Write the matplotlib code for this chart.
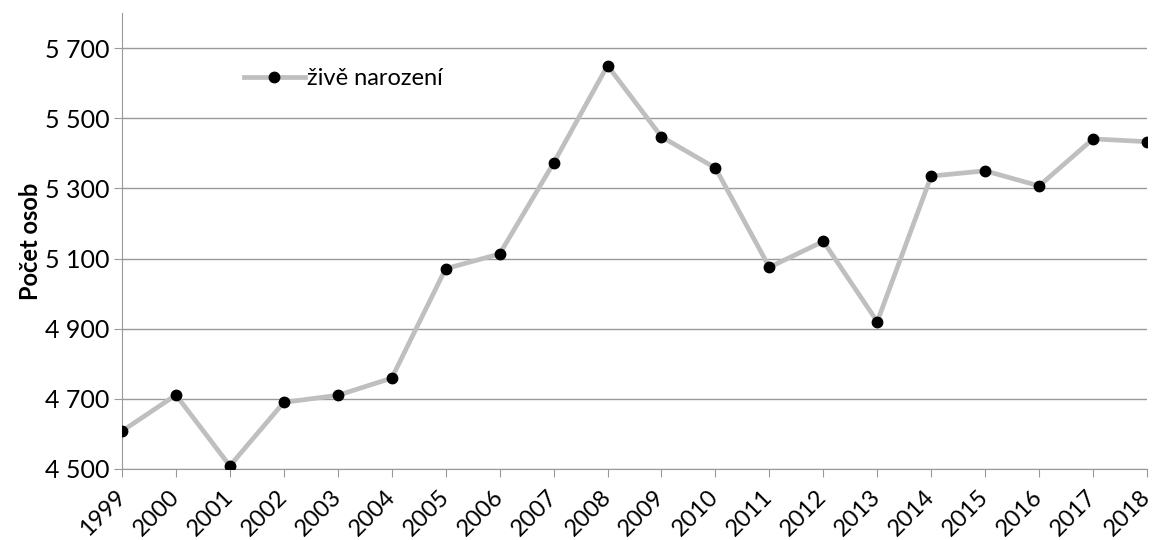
import matplotlib.pyplot as plt
import matplotlib.transforms as mtransforms

years = [1999, 2000, 2001, 2002, 2003, 2004, 2005, 2006, 2007, 2008,
         2009, 2010, 2011, 2012, 2013, 2014, 2015, 2016, 2017, 2018]
births = [4608, 4711, 4509, 4690, 4710, 4759, 5071, 5113, 5372, 5650,
          5447, 5358, 5075, 5149, 4920, 5335, 5350, 5307, 5441, 5433]
yticks = [4500, 4700, 4900, 5100, 5300, 5500, 5700]
ytick_labels = ['4 500', '4 700', '4 900', '5 100', '5 300', '5 500', '5 700']

plt.rcParams['font.family'] = ['Lato', 'DejaVu Sans']

fig = plt.figure(figsize=(11.53, 5.4), dpi=100)
ax = fig.add_axes([0.1058, 0.1315, 0.889, 0.8445])

ax.plot(years, births, color='#bfbfbf', linewidth=3.4, marker='o',
        markersize=7.5, markerfacecolor='black', markeredgecolor='black',
        label='živě narození', zorder=3)

ax.set_xlim(1999, 2018)
ax.set_ylim(4500, 5800)
ax.set_yticks(yticks)
ax.set_yticklabels(ytick_labels, fontsize=18)
ax.set_xticks(years)
ax.set_xticklabels([str(y) for y in years], fontsize=17, rotation=45,
                   ha='right', va='center', rotation_mode='anchor')
# nudge x labels slightly left so 2018 stays inside the figure
shift = mtransforms.ScaledTranslation(-3 / 100, 0, fig.dpi_scale_trans)
for lbl in ax.get_xticklabels():
    lbl.set_transform(lbl.get_transform() + shift)

ax.tick_params(axis='y', length=6, color='#999999', pad=3)
ax.tick_params(axis='x', length=6, color='#999999', pad=12)
ax.yaxis.grid(True, color='#999999', linewidth=1)
ax.set_axisbelow(True)

for s in ['top', 'right']:
    ax.spines[s].set_visible(False)
ax.spines['left'].set_color('#999999')
ax.spines['bottom'].set_color('#999999')

ax.set_ylabel('Počet osob', fontsize=17, fontweight='bold', labelpad=2)

ax.legend(loc='upper left', bbox_to_anchor=(0.098, 0.925), frameon=False,
          fontsize=17, handlelength=2.6, handletextpad=0.1)

fig.savefig('out.png', dpi=100)
